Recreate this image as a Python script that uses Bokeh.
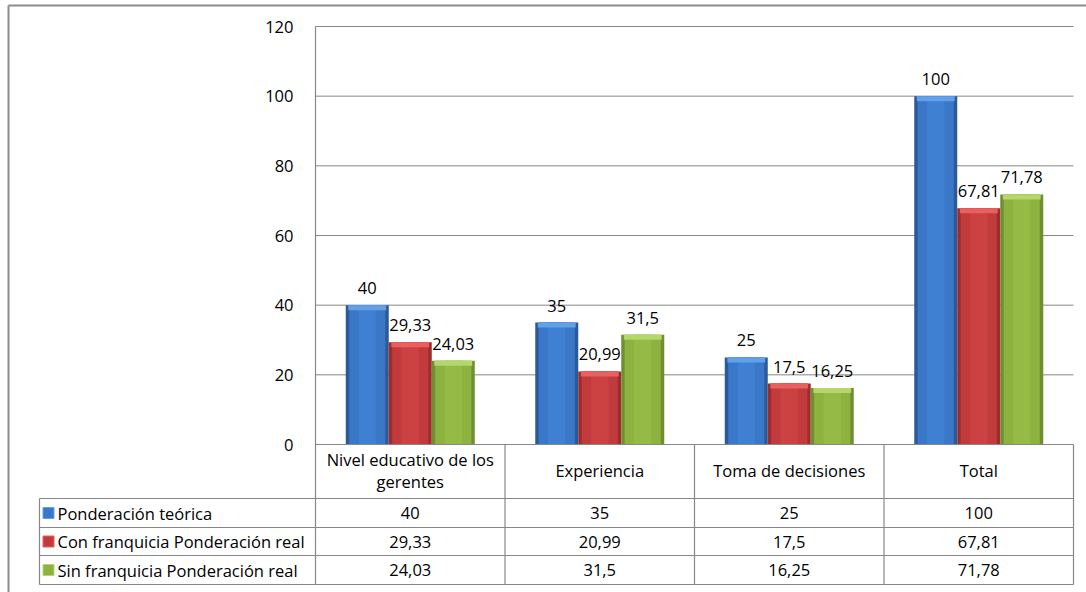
from bokeh.plotting import figure
from bokeh.models import Range1d, LinearAxis, FixedTicker, ColumnDataSource
from bokeh.core.properties import value
from bokeh.embed import file_html
from bokeh.resources import INLINE

# ---- data -------------------------------------------------------------
categories = ["Nivel educativo de los\ngerentes", "Experiencia", "Toma de decisiones", "Total"]
series_names = ["Ponderación teórica", "Con franquicia Ponderación real", "Sin franquicia Ponderación real"]
teorica = [40, 35, 25, 100]
con_franquicia = [29.33, 20.99, 17.5, 67.81]
sin_franquicia = [24.03, 31.5, 16.25, 71.78]
y_ticks = [0, 20, 40, 60, 80, 100, 120]

# ---- page geometry (pixels) -------------------------------------------
W, H = 1086, 592
PLOT_L, PLOT_R = 315, 1073
PLOT_T, AXIS_Y = 26, 444
FRAME_L, FRAME_T = 8, 5
TABLE_L = 39
ROW_EDGES = [444, 498, 527, 555, 584]

n_cat = len(categories)
y_max = y_ticks[-1]
sx = (PLOT_R - PLOT_L) / n_cat          # px per category
sy = (AXIS_Y - PLOT_T) / y_max          # px per unit
X0 = -PLOT_L / sx
X1 = n_cat + (W - PLOT_R) / sx
Y1 = y_max + PLOT_T / sy
Y0 = -(H - AXIS_Y) / sy


def dx(px):
    return X0 + px / sx


def dy(py):
    return Y1 - py / sy


def fmt(v):
    return f"{v:g}".replace(".", ",")


FONT = value("Open Sans")
FS = "16.5px"
GRID = "#878787"

p = figure(width=W, height=H, output_backend="svg", toolbar_location=None,
           x_range=Range1d(X0, X1), y_range=Range1d(Y0, Y1),
           x_axis_type=None, y_axis_type=None, min_border=0,
           background_fill_color="white", border_fill_color="white")
p.outline_line_color = None
p.xgrid.visible = False
p.ygrid.visible = False

# outer chart border
p.segment(x0=[dx(FRAME_L), dx(FRAME_L)], y0=[Y0, dy(FRAME_T)],
          x1=[dx(FRAME_L), X1], y1=[dy(FRAME_T), dy(FRAME_T)],
          line_color="#8c8c8c", line_width=2)

# horizontal gridlines
grid_vals = [t for t in y_ticks if t > 0]
p.segment(x0=[0] * len(grid_vals), y0=grid_vals, x1=[n_cat] * len(grid_vals), y1=grid_vals,
          line_color=GRID, line_width=1)

# value axis labels
yaxis = LinearAxis(fixed_location=0, ticker=FixedTicker(ticks=y_ticks))
yaxis.axis_line_color = None
yaxis.major_tick_line_color = None
yaxis.minor_tick_line_color = None
yaxis.major_label_standoff = 16
yaxis.major_label_text_font = "Open Sans"
yaxis.major_label_text_font_size = FS
yaxis.major_label_text_color = "black"
p.add_layout(yaxis, "left")

# ---- bars ---------------------------------------------------------------
bar_w = 43 / sx
palettes = [
    dict(edge="#2b5a9a", mid="#3a77c6", light="#3f80d3", cap="#62a0ea"),
    dict(edge="#9c2c2d", mid="#c23b3c", light="#cc4243", cap="#e8605f"),
    dict(edge="#6f8e30", mid="#8db240", light="#95bb46", cap="#b4d66a"),
]
series = [teorica, con_franquicia, sin_franquicia]
cap_h = 5 / sy

for k, (vals, pal) in enumerate(zip(series, palettes)):
    off = (k - 1) * bar_w
    src = ColumnDataSource(dict(
        x=[i + 0.5 + off for i in range(n_cat)],
        top=vals,
        cap_bottom=[v - cap_h for v in vals],
        label=[fmt(v) for v in vals],
    ))
    p.vbar(x="x", top="top", bottom=0, width=bar_w, source=src,
           fill_color=pal["edge"], line_color=None)
    p.vbar(x="x", top="top", bottom=0, width=bar_w * 0.84, source=src,
           fill_color=pal["mid"], line_color=None)
    p.vbar(x="x", top="top", bottom=0, width=bar_w * 0.4, source=src,
           fill_color=pal["light"], line_color=None)
    p.vbar(x="x", top="top", bottom="cap_bottom", width=bar_w * 0.88, source=src,
           fill_color=pal["cap"], line_color=None)
    p.text(x="x", y="top", text="label", source=src, text_font=FONT,
           text_font_size=FS, text_color="black", text_align="center",
           text_baseline="bottom", y_offset=-11)

# ---- data table ---------------------------------------------------------
# axis line running down through the table
p.segment(x0=[0], y0=[y_max], x1=[0], y1=[dy(ROW_EDGES[-1])], line_color=GRID, line_width=1.2)
# horizontal rules
p.segment(x0=[0], y0=[0], x1=[n_cat], y1=[0], line_color=GRID, line_width=1.2)
for r in ROW_EDGES[1:]:
    p.segment(x0=[dx(TABLE_L)], y0=[dy(r)], x1=[n_cat], y1=[dy(r)], line_color=GRID, line_width=1.2)
# vertical rules
p.segment(x0=list(range(1, n_cat + 1)), y0=[0] * n_cat,
          x1=list(range(1, n_cat + 1)), y1=[dy(ROW_EDGES[-1])] * n_cat,
          line_color=GRID, line_width=1.2)
p.segment(x0=[dx(TABLE_L)], y0=[dy(ROW_EDGES[1])], x1=[dx(TABLE_L)], y1=[dy(ROW_EDGES[-1])],
          line_color=GRID, line_width=1.2)

# category header
p.text(x=[i + 0.5 for i in range(n_cat)], y=[dy((ROW_EDGES[0] + ROW_EDGES[1]) / 2 - 1)] * n_cat,
       text=categories, text_font=FONT, text_font_size=FS, text_color="black",
       text_align="center", text_baseline="middle", text_line_height=0.95)

# series rows
for k, (name, vals, pal) in enumerate(zip(series_names, series, palettes)):
    yc = dy((ROW_EDGES[k + 1] + ROW_EDGES[k + 2]) / 2)
    p.scatter(x=[dx(48)], y=[yc], marker="square", size=11,
              fill_color=pal["mid"], line_color=pal["cap"], line_width=1)
    p.text(x=[dx(57)], y=[yc], text=[name], text_font=FONT, text_font_size=FS,
           text_color="black", text_align="left", text_baseline="middle")
    p.text(x=[i + 0.5 for i in range(n_cat)], y=[yc] * n_cat, text=[fmt(v) for v in vals],
           text_font=FONT, text_font_size=FS, text_color="black",
           text_align="center", text_baseline="middle")

open("out.html", "w").write(file_html(p, INLINE))
